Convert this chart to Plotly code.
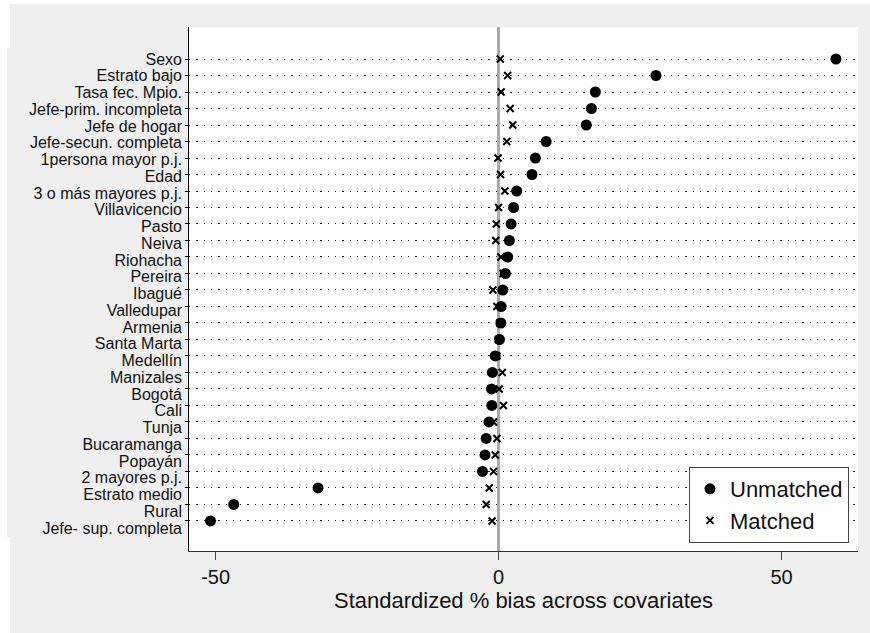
import plotly.graph_objects as go

labels = ["Sexo", "Estrato bajo", "Tasa fec. Mpio.", "Jefe-prim. incompleta",
          "Jefe de hogar", "Jefe-secun. completa", "1persona mayor p.j.", "Edad",
          "3 o más mayores p.j.", "Villavicencio", "Pasto", "Neiva", "Riohacha",
          "Pereira", "Ibagué", "Valledupar", "Armenia", "Santa Marta", "Medellín",
          "Manizales", "Bogotá", "Cali", "Tunja", "Bucaramanga", "Popayán",
          "2 mayores p.j.", "Estrato medio", "Rural", "Jefe- sup. completa"]
unmatched = [59.6, 27.8, 17.1, 16.4, 15.5, 8.4, 6.5, 5.9, 3.2, 2.65, 2.2, 1.9, 1.6,
             1.2, 0.75, 0.45, 0.4, 0.15, -0.6, -1.1, -1.25, -1.2, -1.7, -2.2, -2.4,
             -2.85, -31.9, -46.8, -50.9]
matched = [0.3, 1.6, 0.45, 2.05, 2.5, 1.45, -0.1, 0.35, 1.1, 0.0, -0.4, -0.5, 0.4,
           0.8, -1.0, -0.3, 0.2, 0.0, -0.3, 0.65, 0.1, 0.85, -0.9, -0.3, -0.6,
           -0.9, -1.65, -2.2, -1.15]
x_ticks = [-50, 0, 50]
x_tick_text = ["-50", "0", "50"]
x_title = "Standardized % bias across covariates"

W, H = 870, 633
L, R, T, B = 189, 858, 27, 551


def px(x):
    return (x - L) / (R - L)


def py(y):
    return (B - y) / (B - T)


order = labels[::-1]  # bottom to top
pos = list(range(len(labels)))

fig = go.Figure()
fig.add_trace(go.Scatter(
    x=unmatched, y=labels, mode="markers", name="Unmatched",
    marker=dict(symbol="circle", size=11, color="black"),
))
fig.add_trace(go.Scatter(
    x=matched, y=labels, mode="markers", name="Matched",
    marker=dict(symbol="x-thin", size=7, color="black",
                line=dict(color="black", width=2)),
))
# invisible trace carrying the label axis
fig.add_trace(go.Scatter(
    x=unmatched[::-1], y=pos, yaxis="y2", mode="markers",
    marker=dict(opacity=0), showlegend=False, hoverinfo="skip",
))

shapes = []
for (x0, y0, x1, y1) in [(0, 0, 870, 4), (0, 4, 10, 48), (0, 48, 7, 537), (0, 537, 10, 633)]:
    shapes.append(dict(type="rect", xref="paper", yref="paper",
                       x0=px(x0), x1=px(x1), y0=py(y1), y1=py(y0),
                       fillcolor="white", line=dict(width=0), layer="below"))

fig.update_layout(
    width=W, height=H,
    margin=dict(l=L, r=W - R, t=T, b=H - B, pad=0),
    paper_bgcolor="#efefef", plot_bgcolor="white",
    font=dict(family="Liberation Sans, Arial, sans-serif", color="#111"),
    showlegend=True,
    legend=dict(x=px(849), y=py(543), xanchor="right", yanchor="bottom",
                bgcolor="white", bordercolor="#444", borderwidth=1,
                font=dict(size=22, color="#111"), tracegroupgap=0),
    xaxis=dict(range=[-54.7, 63.5], tickmode="array", tickvals=x_ticks,
               ticktext=x_tick_text, ticks="outside", ticklen=8,
               tickcolor="#444", tickwidth=1, showline=True, linecolor="#333",
               linewidth=1, showgrid=False, zeroline=True, zerolinecolor="#aaaaaa",
               zerolinewidth=2.5, tickfont=dict(size=20, color="#111"),
               title=dict(text=x_title, font=dict(size=22, color="#111"), standoff=4),
               fixedrange=True),
    yaxis=dict(type="category", categoryorder="array", categoryarray=order,
               range=[-1.82, 29.94], showticklabels=False, ticks="outside",
               ticklen=3, tickcolor="black", showline=True, linecolor="black",
               linewidth=1, showgrid=True, gridcolor="#222", gridwidth=1.3,
               griddash="1.3px,6px", zeroline=False),
    yaxis2=dict(overlaying="y", side="left", range=[-1.373, 29.91],
                tickmode="array", tickvals=pos, ticktext=order, ticks="",
                showgrid=False, showline=False, zeroline=False,
                tickfont=dict(size=16, color="#111"), ticklabelstandoff=6),
    shapes=shapes,
)

fig.write_html("out.html", config={"displayModeBar": False},
               post_script="document.body.style.margin='0';document.body.style.overflow='hidden';")
